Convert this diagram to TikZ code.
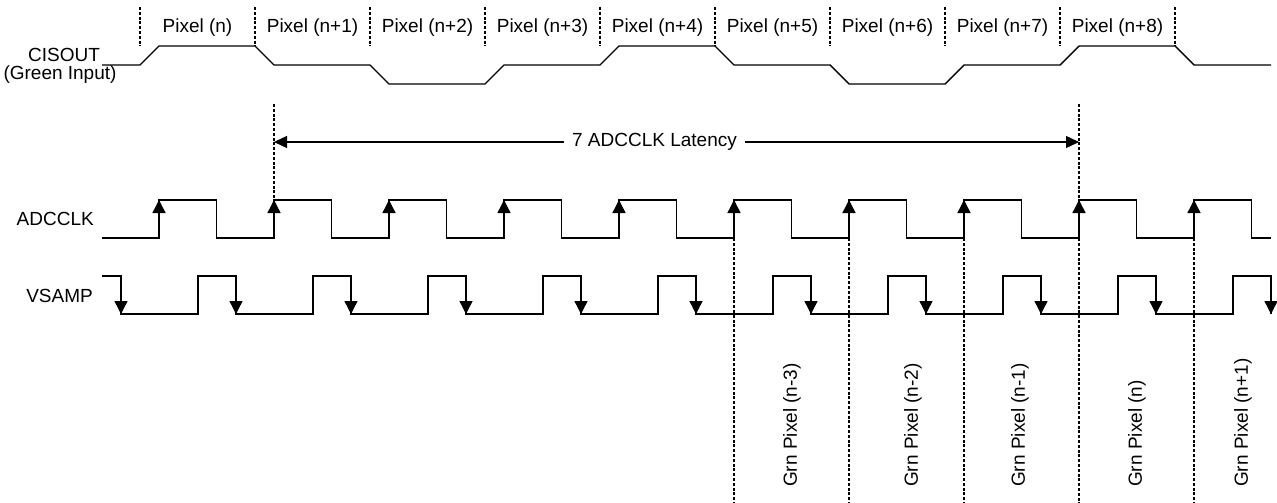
\documentclass[tikz,border=0pt]{standalone}
\usepackage{fontspec}
\setmainfont{Liberation Sans}
\usetikzlibrary{arrows.meta}
\begin{document}
\begin{tikzpicture}[x=1pt,y=-1pt,
  wave/.style={line width=1.4pt, line join=miter},
  guide/.style={line width=1.1pt, dash pattern=on 3pt off 1.8pt},
  edgearrow/.style={line width=1.4pt, -{Triangle[length=13pt,width=13pt]}},
  lbl/.style={inner sep=0pt, font=\fontsize{19}{22}\selectfont},
]
\useasboundingbox (0,0) rectangle (1277,503);

% signal names
\node[lbl] (cis) at (64,55) {CISOUT};
\node[lbl] (green) at (60,75) {(Green Input)};
\node[lbl, anchor=east] (adcname) at (94,219) {ADCCLK};
\node[lbl, anchor=east] (vsname) at (93,296) {VSAMP};

% pixel separators and labels
\foreach \k in {0,...,9}
  \draw[guide] ({140+115*\k},7) -- ({140+115*\k},46);
\foreach \k/\t in {0/n,1/n+1,2/n+2,3/n+3,4/n+4,5/n+5,6/n+6,7/n+7,8/n+8}
  \node[lbl] (pix\k) at ({197.5+115*\k},28) {Pixel (\t)};

% CISOUT waveform
\draw[wave] (102,65) -- (140,65) -- (159,46) -- (255,46) -- (274,65) -- (370,65)
  -- (389,84) -- (485,84) -- (504,65) -- (600,65) -- (619,46) -- (715,46)
  -- (734,65) -- (830,65) -- (849,84) -- (945,84) -- (964,65) -- (1060,65)
  -- (1079,46) -- (1175,46) -- (1194,65) -- (1271,65);

% latency guides
\coordinate (lt) at (274,104);
\coordinate (lb) at (274,200);
\coordinate (rt) at (1079,104);
\coordinate (rb) at (1079,503);
\draw[guide] (lt) -- (lb);
\draw[guide] (rt) -- (rb);
\coordinate (la) at (274,142);
\coordinate (ra) at (1079,142);
\draw[line width=1.3pt, {Triangle[length=13pt,width=12pt]}-{Triangle[length=13pt,width=12pt]}] (la) -- (ra);
\node[lbl, fill=white, inner xsep=8pt, inner ysep=3pt] (lat) at (654.5,142) {7 ADCCLK Latency};

% lower guides
\foreach \x in {734,849,964,1194}
  \draw[guide] (\x,238) -- (\x,503);

% ADCCLK waveform
\draw[wave] (102,238) \foreach \k in {0,...,9} {
   -- ({159+115*\k},238) -- ({159+115*\k},200) -- ({216.5+115*\k},200) -- ({216.5+115*\k},238) }
   -- (1271,238);
\foreach \k in {0,...,9}
  \draw[edgearrow] ({159+115*\k},238) -- ({159+115*\k},200);

% VSAMP waveform
\draw[wave] (102,276) -- (121,276) -- (121,314) \foreach \k in {0,...,9} {
   -- ({198+115*\k},314) -- ({198+115*\k},276) -- ({236+115*\k},276) -- ({236+115*\k},314) };
\foreach \k in {0,...,10}
  \draw[edgearrow] ({121+115*\k},276) -- ({121+115*\k},314);

% output pixel labels
\foreach \x/\t [count=\i] in {792/n-3,913/n-2,1020/n-1,1137/n,1243/n+1}
  \node[lbl, rotate=90, anchor=west] (grn\i) at (\x,487) {Grn Pixel (\t)};
\end{tikzpicture}
\end{document}
